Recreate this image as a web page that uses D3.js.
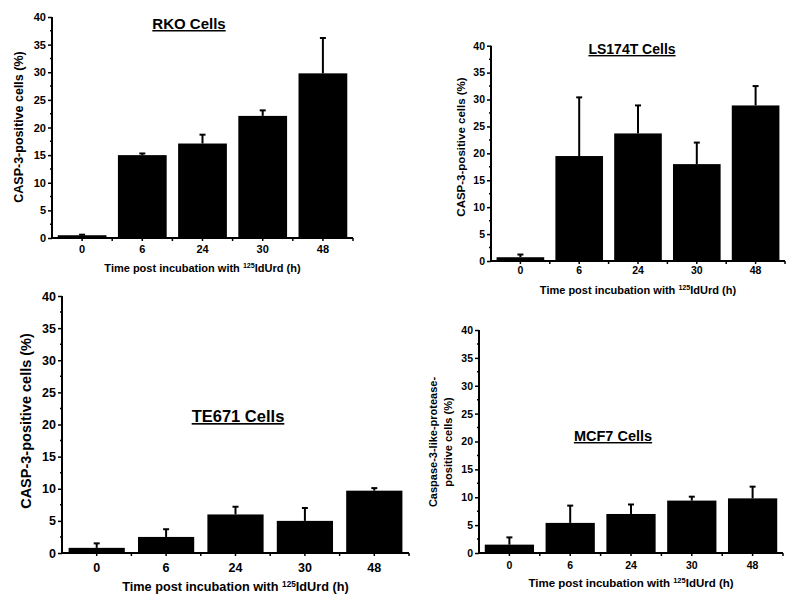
<!DOCTYPE html>
<html>
<head>
<meta charset="utf-8">
<script src="https://cdn.jsdelivr.net/npm/d3@7"></script>
<style>
  html, body { margin: 0; padding: 0; background: #fff; }
  svg { display: block; font-family: Arial, "Liberation Sans", Helvetica, sans-serif; }
</style>
</head>
<body>
<svg id="chart" width="800" height="606"></svg>
<script>
// ---- data ----
const categories = ["0", "6", "24", "30", "48"];
const yTickValues = [0, 5, 10, 15, 20, 25, 30, 35, 40];
const yMinorValues = [2.5, 7.5, 12.5, 17.5, 22.5, 27.5, 32.5, 37.5];

const rkoMeans = [0.5, 15.0, 17.1, 22.1, 29.8];
const rkoErrors = [0.1, 0.3, 1.6, 1.0, 6.4];

const ls174tMeans = [0.7, 19.5, 23.7, 18.0, 28.9];
const ls174tErrors = [0.5, 10.9, 5.2, 4.0, 3.6];

const te671Means = [0.8, 2.5, 6.0, 5.0, 9.7];
const te671Errors = [0.7, 1.2, 1.2, 2.0, 0.4];

const mcf7Means = [1.5, 5.4, 7.0, 9.4, 9.8];
const mcf7Errors = [1.3, 3.1, 1.7, 0.7, 2.1];

const titles = ["RKO Cells", "LS174T Cells", "TE671 Cells", "MCF7 Cells"];
const yLabelMain = "CASP-3-positive cells (%)";
const yLabelMcf7 = ["Caspase-3-like-protease-", "positive cells (%)"];

// ---- layout (positions only) ----
const panels = [
  { means: rkoMeans, errs: rkoErrors, title: titles[0], yLabel: [yLabelMain],
    x0: 52, x1: 353, y0: 238, y1: 17, tickFs: 11, xtBase: 253, xTitleBase: 272, xTitleFs: 11,
    titleX: 189, titleBase: 29, titleFs: 15, yLabX: [23], yLabY: 127, yLabFs: 12.5 },
  { means: ls174tMeans, errs: ls174tErrors, title: titles[1], yLabel: [yLabelMain],
    x0: 491, x1: 785, y0: 261, y1: 45.7, tickFs: 10.5, xtBase: 274, xTitleBase: 294, xTitleFs: 11,
    titleX: 632, titleBase: 54, titleFs: 14, yLabX: [465], yLabY: 147, yLabFs: 11.5 },
  { means: te671Means, errs: te671Errors, title: titles[2], yLabel: [yLabelMain],
    x0: 62, x1: 409, y0: 553, y1: 296, tickFs: 12.5, xtBase: 572, xTitleBase: 591, xTitleFs: 12.7,
    titleX: 238, titleBase: 422, titleFs: 16.5, yLabX: [31], yLabY: 421, yLabFs: 14.5 },
  { means: mcf7Means, errs: mcf7Errors, title: titles[3], yLabel: yLabelMcf7,
    x0: 479, x1: 783, y0: 553, y1: 330, tickFs: 10.5, xtBase: 569, xTitleBase: 587, xTitleFs: 11.5,
    titleX: 613, titleBase: 441, titleFs: 14.5, yLabX: [437, 452], yLabY: 442, yLabFs: 11 }
];

const svg = d3.select("#chart");

panels.forEach(p => {
  const g = svg.append("g");
  const x = d3.scaleBand().domain(categories).range([p.x0, p.x1]).paddingInner(0.19).paddingOuter(0.095);
  const y = d3.scaleLinear().domain([0, 40]).range([p.y0, p.y1]);

  // bars
  g.selectAll("rect.bar").data(p.means).join("rect")
    .attr("class", "bar")
    .attr("x", (d, i) => x(categories[i]))
    .attr("width", x.bandwidth())
    .attr("y", d => y(d))
    .attr("height", d => y(0) - y(d))
    .attr("fill", "#000");

  // error bars
  const eg = g.selectAll("g.err").data(p.means.map((m, i) => ({ m, e: p.errs[i], c: categories[i] }))).join("g");
  eg.append("line")
    .attr("x1", d => x(d.c) + x.bandwidth() / 2).attr("x2", d => x(d.c) + x.bandwidth() / 2)
    .attr("y1", d => y(d.m)).attr("y2", d => y(d.m + d.e))
    .attr("stroke", "#000").attr("stroke-width", 2);
  eg.append("line")
    .attr("x1", d => x(d.c) + x.bandwidth() / 2 - 3).attr("x2", d => x(d.c) + x.bandwidth() / 2 + 3)
    .attr("y1", d => y(d.m + d.e)).attr("y2", d => y(d.m + d.e))
    .attr("stroke", "#000").attr("stroke-width", 2);

  // y axis
  const yAxis = d3.axisLeft(y).tickValues(yTickValues).tickSize(4).tickPadding(2).tickFormat(d3.format("d"));
  const ya = g.append("g").attr("transform", `translate(${p.x0},0)`).call(yAxis);
  ya.select(".domain").attr("stroke-width", 2).attr("d", `M0,${p.y0 + 1}V${p.y1}`);
  ya.selectAll(".tick line").attr("stroke-width", 1.5);
  ya.selectAll(".tick text").attr("font-size", p.tickFs).attr("font-weight", "bold").attr("fill", "#000");
  // minor ticks
  g.selectAll("line.minor").data(yMinorValues).join("line")
    .attr("x1", p.x0 - 2).attr("x2", p.x0)
    .attr("y1", d => y(d)).attr("y2", d => y(d))
    .attr("stroke", "#000").attr("stroke-width", 1.5);

  // x axis
  const xAxis = d3.axisBottom(x).tickSize(3).tickPadding(2);
  const xa = g.append("g").attr("transform", `translate(0,${p.y0})`).call(xAxis);
  xa.select(".domain").attr("stroke-width", 2).attr("d", `M${p.x0 - 1},0H${p.x1}`);
  xa.selectAll(".tick line").attr("stroke-width", 1.5);
  xa.selectAll(".tick text").remove();
  // boundary ticks
  const bounds = categories.slice(1).map(c => x(c) - x.step() * x.paddingInner() / 2).concat([p.x1]);
  g.selectAll("line.bt").data(bounds).join("line")
    .attr("x1", d => d).attr("x2", d => d)
    .attr("y1", p.y0).attr("y2", p.y0 + 3)
    .attr("stroke", "#000").attr("stroke-width", 1.5);
  // x tick labels
  g.selectAll("text.xt").data(categories).join("text")
    .attr("x", d => x(d) + x.bandwidth() / 2)
    .attr("y", p.xtBase)
    .attr("text-anchor", "middle")
    .attr("font-size", p.tickFs).attr("font-weight", "bold")
    .text(d => d);

  // x title
  const xt = g.append("text")
    .attr("x", (p.x0 + p.x1) / 2).attr("y", p.xTitleBase)
    .attr("text-anchor", "middle").attr("font-size", p.xTitleFs).attr("font-weight", "bold");
  xt.append("tspan").text("Time post incubation with ");
  xt.append("tspan").attr("font-size", p.xTitleFs * 0.65).attr("dy", -p.xTitleFs * 0.35).text("125");
  xt.append("tspan").attr("dy", p.xTitleFs * 0.35).text("IdUrd (h)");

  // title
  g.append("text")
    .attr("x", p.titleX).attr("y", p.titleBase)
    .attr("text-anchor", "middle").attr("font-size", p.titleFs).attr("font-weight", "bold")
    .attr("text-decoration", "underline")
    .text(p.title);

  // y label
  p.yLabel.forEach((t, i) => {
    g.append("text")
      .attr("transform", `translate(${p.yLabX[i]},${p.yLabY}) rotate(-90)`)
      .attr("text-anchor", "middle").attr("font-size", p.yLabFs).attr("font-weight", "bold")
      .text(t);
  });
});
</script>
</body>
</html>
